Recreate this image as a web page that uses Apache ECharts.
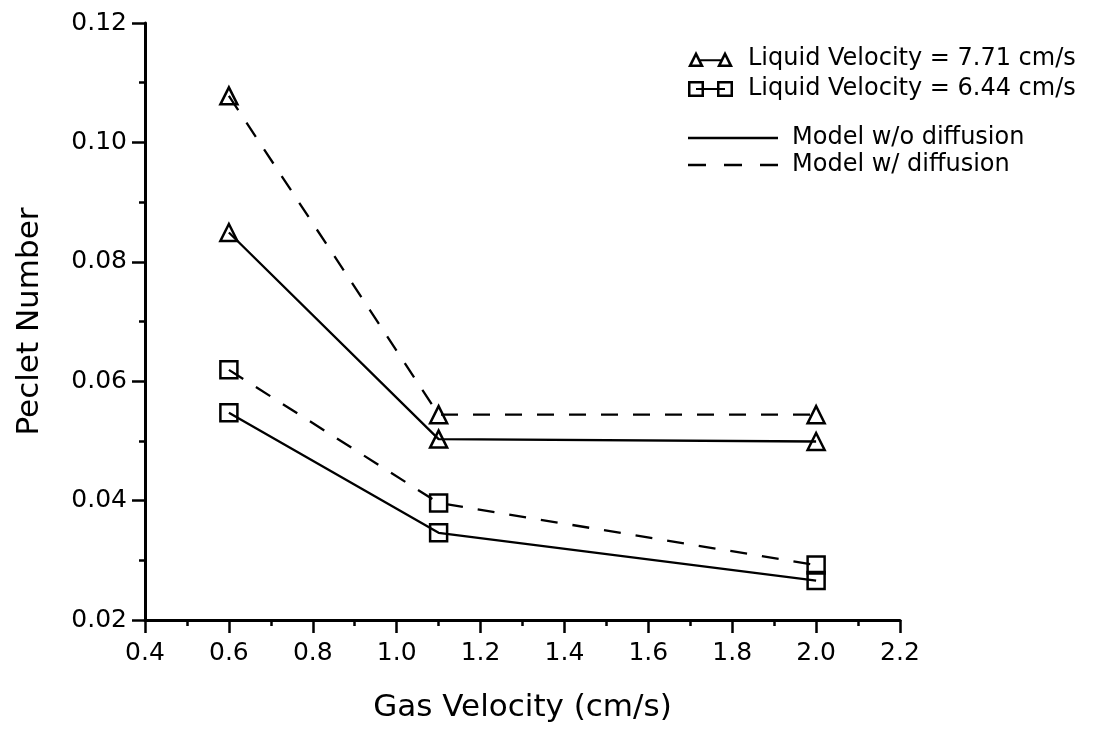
<!DOCTYPE html>
<html>
<head>
<meta charset="utf-8">
<script src="https://cdn.jsdelivr.net/npm/echarts@6/dist/echarts.min.js"></script>
<style>
  html, body { margin: 0; padding: 0; background: #fff; }
  #chart { width: 1099px; height: 730px; }
</style>
</head>
<body>
<div id="chart"></div>
<script>
// gas velocity (cm/s)
var gasVel = [0.6, 1.1, 2.0];
// Peclet number, liquid velocity 7.71 cm/s
var pe771Diff = [0.1078, 0.0544, 0.0544];
var pe771NoDiff = [0.0849, 0.0503, 0.0499];
// Peclet number, liquid velocity 6.44 cm/s
var pe644Diff = [0.0619, 0.0396, 0.0292];
var pe644NoDiff = [0.0547, 0.0346, 0.0266];

var legendNames = [
  "Liquid Velocity = 7.71 cm/s",
  "Liquid Velocity = 6.44 cm/s",
  "Model w/o diffusion",
  "Model w/ diffusion",
];

var font = "DejaVu Sans";
var dash = [17, 15];

// legend icons: two hollow markers joined by a line
var triIcon = "path://M0 16L8 0L16 16Z M4.2 13.4L11.8 13.4L8 5.81Z M12 8.3L33 8.3L33 10.3L12 10.3Z " +
  "M29 16L37 0L45 16Z M33.2 13.4L40.8 13.4L37 5.81Z";
var sqIcon = "path://M0 0L16 0L16 16L0 16Z M2.5 2.5L2.5 13.5L13.5 13.5L13.5 2.5Z M8 7L37 7L37 9L8 9Z " +
  "M29 0L45 0L45 16L29 16Z M31.5 2.5L31.5 13.5L42.5 13.5L42.5 2.5Z";
// legend line samples
var solidIcon = "path://M0 0L90 0L90 2.4L0 2.4Z";
var dashIcon = "path://M0 0L18 0L18 2.4L0 2.4Z M36 0L54 0L54 2.4L36 2.4Z M72 0L90 0L90 2.4L72 2.4Z";

function pts(ys) {
  return gasVel.map(function (x, i) { return [x, ys[i]]; });
}

function dataSeries(name, ys, symbol, dashed) {
  return {
    name: name,
    type: "line",
    data: pts(ys),
    symbol: symbol,
    symbolSize: 17,
    showSymbol: true,
    lineStyle: { color: "#000", width: 2.3, type: dashed ? dash : "solid" },
    itemStyle: { color: "rgba(0,0,0,0)", borderColor: "#000", borderWidth: 2.5 },
    emphasis: { disabled: true },
    z: 3,
  };
}

function legendItem(name, icon) {
  return { name: name, icon: icon, itemStyle: { color: "#000", borderWidth: 0 } };
}

var chart = echarts.init(document.getElementById("chart"));
chart.setOption({
  animation: false,
  backgroundColor: "#fff",
  grid: { left: 145, right: 199, top: 23, bottom: 110 },
  legend: [
    {
      data: [legendItem(legendNames[0], triIcon), legendItem(legendNames[1], sqIcon)],
      orient: "vertical",
      left: 688,
      top: 47,
      padding: 0,
      itemWidth: 45,
      itemHeight: 16,
      itemGap: 6,
      selectedMode: false,
      textStyle: { fontFamily: font, fontSize: 24, color: "#000", padding: [0, 0, 0, 10] },
    },
    {
      data: [legendItem(legendNames[2], solidIcon), legendItem(legendNames[3], dashIcon)],
      orient: "vertical",
      left: 688,
      top: 126,
      padding: 0,
      itemWidth: 90,
      itemHeight: 14,
      itemGap: 3,
      selectedMode: false,
      textStyle: { fontFamily: font, fontSize: 24, color: "#000", padding: [0, 0, 0, 9] },
    },
  ],
  xAxis: {
    type: "value",
    min: 0.4,
    max: 2.2,
    interval: 0.2,
    name: "Gas Velocity (cm/s)",
    nameLocation: "middle",
    nameGap: 72,
    nameTextStyle: { fontFamily: font, fontSize: 31, color: "#000" },
    axisLine: { lineStyle: { color: "#000", width: 3 } },
    axisTick: { length: 13, lineStyle: { color: "#000", width: 2.5 } },
    minorTick: { show: true, splitNumber: 2, length: 6, lineStyle: { color: "#000", width: 2.5 } },
    splitLine: { show: false },
    axisLabel: {
      margin: 21,
      fontFamily: font,
      fontSize: 25,
      color: "#000",
      formatter: function (v) { return v.toFixed(1); },
    },
  },
  yAxis: {
    type: "value",
    min: 0.02,
    max: 0.12,
    interval: 0.02,
    name: "Peclet Number",
    nameLocation: "middle",
    nameGap: 100,
    nameTextStyle: { fontFamily: font, fontSize: 31, color: "#000" },
    axisLine: { show: true, lineStyle: { color: "#000", width: 3 } },
    axisTick: { show: true, length: 13, lineStyle: { color: "#000", width: 2.5 } },
    minorTick: { show: true, splitNumber: 2, length: 6, lineStyle: { color: "#000", width: 2.5 } },
    splitLine: { show: false },
    axisLabel: {
      margin: 18,
      fontFamily: font,
      fontSize: 25,
      color: "#000",
      formatter: function (v) { return v.toFixed(2); },
    },
  },
  series: [
    dataSeries("7.71 w/ diffusion", pe771Diff, "triangle", true),
    dataSeries("7.71 w/o diffusion", pe771NoDiff, "triangle", false),
    dataSeries("6.44 w/ diffusion", pe644Diff, "rect", true),
    dataSeries("6.44 w/o diffusion", pe644NoDiff, "rect", false),
    // legend-only entries
    { name: legendNames[0], type: "line", data: [], itemStyle: { color: "#000" } },
    { name: legendNames[1], type: "line", data: [], itemStyle: { color: "#000" } },
    { name: legendNames[2], type: "line", data: [], itemStyle: { color: "#000" } },
    { name: legendNames[3], type: "line", data: [], itemStyle: { color: "#000" } },
  ],
});
</script>
</body>
</html>
